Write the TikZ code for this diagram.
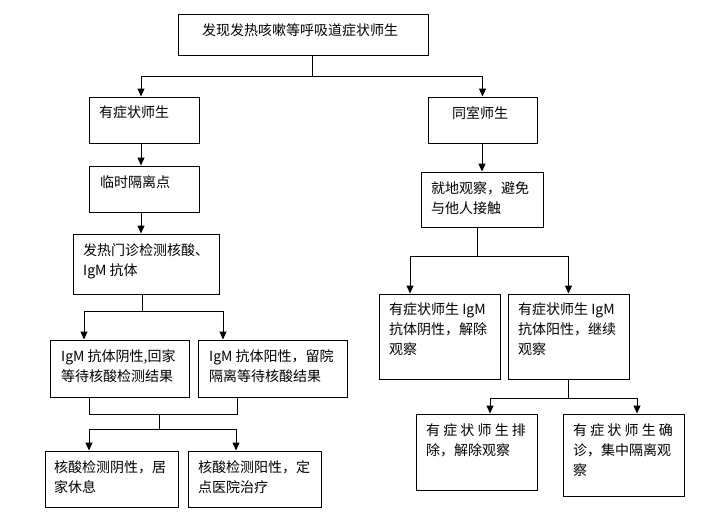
\documentclass[tikz,border=0pt]{standalone}
\usepackage{fontspec}
\newfontfamily\cjk{Noto Sans CJK SC}
\usetikzlibrary{arrows.meta}

\tikzset{
	box/.style={draw, line width=1pt, inner sep=0pt},
	txt/.style={anchor=north west, inner sep=0pt, align=left, font=\cjk\fontsize{14}{20}\selectfont},
	ln/.style={line width=1pt},
	arr/.style={line width=1pt, -{Triangle[width=7pt,length=8pt]}}
}

\begin{document}
\begin{tikzpicture}[x=1pt,y=-1pt]
	\useasboundingbox (0,0) rectangle (708,531);

	% top
	\node[box, minimum width=250, minimum height=41] (top) at (303,34.5) {};
	\node[txt] (topt) at (202,14+9) {发现发热咳嗽等呼吸道症状师生};

	% left branch
	\node[box, minimum width=110, minimum height=46] (b1) at (144,120) {};
	\node[txt] (b1t) at (89+10,97+9) {有症状师生};

	\node[box, minimum width=110, minimum height=46] (b2) at (144,189) {};
	\node[txt] (b2t) at (89+11,166+9) {临时隔离点};

	\node[box, minimum width=146, minimum height=60] (b3) at (146,264) {};
	\node[txt] (b3t) at (73+10,234+9) {发热门诊检测核酸、\\IgM 抗体};

	\node[box, minimum width=139, minimum height=57] (b4L) at (119.5,368.5) {};
	\node[txt] (b4Lt) at (50+11,340+9) {IgM 抗体阴性,回家\\等待核酸检测结果};

	\node[box, minimum width=149, minimum height=57] (b4R) at (272.5,368.5) {};
	\node[txt] (b4Rt) at (198+11,340+9) {IgM 抗体阳性，留院\\隔离等待核酸结果};

	\node[box, minimum width=133, minimum height=56] (b5L) at (111.5,479) {};
	\node[txt] (b5Lt) at (45+9,451+9) {核酸检测阴性，居\\家休息};

	\node[box, minimum width=133, minimum height=56] (b5R) at (254.5,479) {};
	\node[txt] (b5Rt) at (188+10,451+9) {核酸检测阳性，定\\点医院治疗};

	% right branch
	\node[box, minimum width=109, minimum height=46] (r1) at (482.5,120) {};
	\node[txt] (r1t) at (428+24,97+9) {同室师生};

	\node[box, minimum width=122, minimum height=55] (r2) at (482,199.5) {};
	\node[txt] (r2t) at (421+10,172+9) {就地观察，避免\\与他人接触};

	\node[box, minimum width=121, minimum height=85] (r3L) at (439.5,336.5) {};
	\node[txt] (r3Lt) at (379+10,294+9) {有症状师生 IgM\\抗体阴性，解除\\观察};

	\node[box, minimum width=121, minimum height=85] (r3R) at (568.5,336.5) {};
	\node[txt] (r3Rt) at (508+10,294+9) {有症状师生 IgM\\抗体阳性，继续\\观察};

	\node[box, minimum width=121, minimum height=76] (r4L) at (476.5,452) {};
	\node[txt] (r4Lt) at (416+10,414+9) {有 症 状 师 生 排\\除，解除观察};

	\node[box, minimum width=121, minimum height=82] (r4R) at (623.5,455) {};
	\node[txt] (r4Rt) at (563+10,414+9) {有 症 状 师 生 确\\诊，集中隔离观\\察};

	% connectors
	\coordinate (j0) at (312,76);
	\draw[ln] (top.south -| j0) -- (j0);
	\draw[arr] (j0) -| ([xshift=-3]b1.north);
	\draw[arr] (j0) -| (r1.north);
	\draw[arr] ([xshift=-3]b1.south) -- ([xshift=-3]b2.north);
	\draw[arr] ([xshift=-3]b2.south) -- ([xshift=-3]b2.south |- b3.north);

	\coordinate (j1) at (142,311);
	\draw[ln] (b3.south -| j1) -- (j1);
	\draw[arr] (j1) -| ([xshift=-35.5]b4L.north);
	\draw[arr] (j1) -| ([xshift=-49.5]b4R.north);

	\coordinate (j2) at (159,414);
	\coordinate (j3) at (159,429);
	\draw[ln] ([xshift=-30.5]b4L.south) |- (j2) -| ([xshift=-35.5]b4R.south);
	\draw[ln] (j2) -- (j3);
	\draw[arr] (j3) -| ([xshift=-22.5]b5L.north);
	\draw[arr] (j3) -| ([xshift=-18.5]b5R.north);

	\draw[arr] (r1.south -| r2.north) -- (r2.north);
	\coordinate (j4) at (477,256);
	\draw[ln] (r2.south -| j4) -- (j4);
	\draw[arr] (j4) -| ([xshift=-29.5]r3L.north);
	\draw[arr] (j4) -| (r3R.north);

	\coordinate (j5) at (568.5,398);
	\draw[ln] (r3R.south) -- (j5);
	\draw[arr] (j5) -| ([xshift=13.5]r4L.north);
	\draw[arr] (j5) -| ([xshift=13.5]r4R.north);
\end{tikzpicture}
\end{document}
